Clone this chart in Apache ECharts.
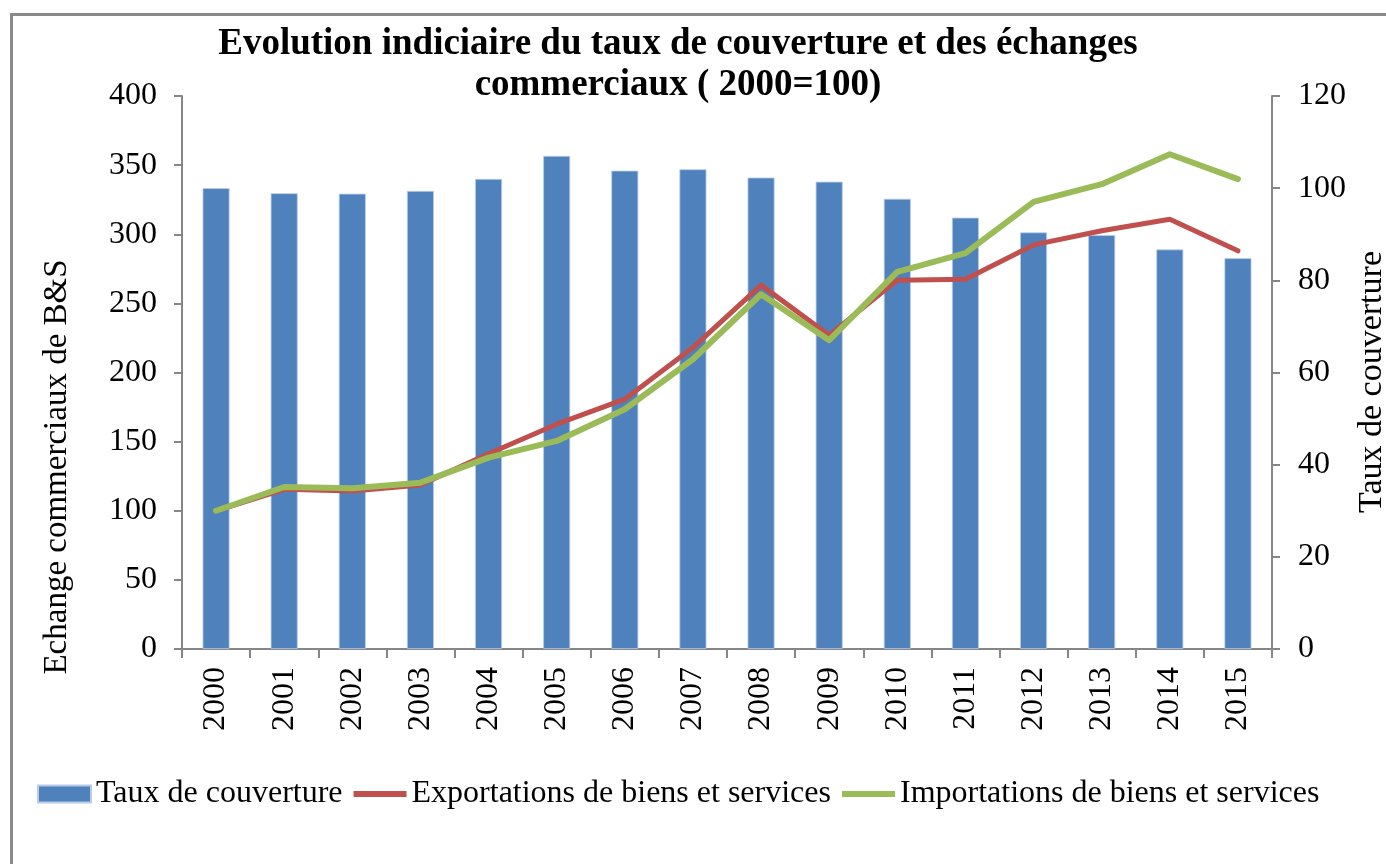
<!DOCTYPE html>
<html>
<head>
<meta charset="utf-8">
<script src="https://cdn.jsdelivr.net/npm/echarts@6/dist/echarts.min.js"></script>
<style>
html,body{margin:0;padding:0;background:#fff;}
#chart{width:1386px;height:864px;}
</style>
</head>
<body>
<div id="chart"></div>
<script>
var years = ['2000','2001','2002','2003','2004','2005','2006','2007','2008','2009','2010','2011','2012','2013','2014','2015'];
var tauxCouverture = [100, 98.9, 98.8, 99.4, 102.0, 107.0, 103.8, 104.1, 102.3, 101.4, 97.7, 93.6, 90.4, 89.8, 86.7, 84.8];
var exportations = [100, 115.5, 114.3, 118.7, 141.3, 162.6, 180.7, 218, 263.2, 227, 266.8, 267.5, 292.3, 302.5, 310.9, 288];
var importations = [100, 117.2, 116.3, 120.3, 138.4, 150.5, 173.4, 209.6, 256.6, 223.4, 272.8, 286.3, 323.4, 336.2, 357.9, 339.9];
var seriesNames = ['Taux de couverture', 'Exportations de biens et services', 'Importations de biens et services'];
var titleText = 'Evolution indiciaire du taux de couverture et des échanges\ncommerciaux ( 2000=100)';
var leftAxisName = 'Echange commerciaux de B&S';
var rightAxisName = 'Taux de couverture';

var FONT = 'Liberation Serif';
var axisGray = '#868686';
var linePath = 'path://M0,0H54V6H0Z';
var chart = echarts.init(document.getElementById('chart'));
chart.setOption({
  backgroundColor: '#fff',
  animation: false,
  textStyle: { fontFamily: FONT, color: '#000' },
  graphic: [{
    type: 'rect', left: 9, top: 12, silent: true,
    shape: { width: 1500, height: 1000 },
    style: { fill: 'none', stroke: '#8a8a8a', lineWidth: 3 }
  }, {
    type: 'text', x: 57, y: 467, rotation: Math.PI / 2, silent: true,
    style: { text: leftAxisName, font: '33px "Liberation Serif"', fill: '#000', align: 'center', verticalAlign: 'middle' }
  }, {
    type: 'text', x: 1372, y: 382, rotation: Math.PI / 2, silent: true,
    style: { text: rightAxisName, font: '34px "Liberation Serif"', fill: '#000', align: 'center', verticalAlign: 'middle' }
  }],
  title: {
    text: titleText,
    left: 673, top: 19, textAlign: 'center',
    textStyle: { fontFamily: FONT, fontWeight: 'bold', fontSize: 37, lineHeight: 41, color: '#000' }
  },
  legend: {
    left: 37, top: 778, padding: 0,
    itemWidth: 53, itemHeight: 17, itemGap: 11,
    textStyle: { fontFamily: FONT, fontSize: 32, color: '#000' },
    data: [
      { name: seriesNames[0], icon: 'rect' },
      { name: seriesNames[1], icon: linePath },
      { name: seriesNames[2], icon: linePath }
    ]
  },
  grid: { left: 182, right: 114, top: 96, bottom: 215, containLabel: false },
  xAxis: {
    type: 'category', data: years,
    boundaryGap: true,
    axisLine: { lineStyle: { color: axisGray, width: 2 } },
    axisTick: { show: true, alignWithLabel: false, length: 9, lineStyle: { color: axisGray, width: 2 } },
    axisLabel: { rotate: 90, margin: 18, fontFamily: FONT, fontSize: 32, color: '#000' }
  },
  yAxis: [{
    type: 'value', min: 0, max: 400, interval: 50, position: 'left',
    axisLine: { show: true, lineStyle: { color: axisGray, width: 2 } },
    axisTick: { show: true, length: 8, lineStyle: { color: axisGray, width: 2 } },
    axisLabel: { margin: 25, fontFamily: FONT, fontSize: 32, color: '#000' },
    splitLine: { show: false }
  }, {
    type: 'value', min: 0, max: 120, interval: 20, position: 'right',
    axisLine: { show: true, lineStyle: { color: axisGray, width: 2 } },
    axisTick: { show: true, length: 8, lineStyle: { color: axisGray, width: 2 } },
    axisLabel: { margin: 26, fontFamily: FONT, fontSize: 32, color: '#000' },
    splitLine: { show: false }
  }],
  series: [{
    name: seriesNames[0], type: 'bar', yAxisIndex: 1, data: tauxCouverture,
    barWidth: 27,
    itemStyle: { color: '#4F81BD', borderColor: '#b9cde8', borderWidth: 0.8 }
  }, {
    name: seriesNames[1], type: 'line', yAxisIndex: 0, data: exportations,
    symbol: 'none', showSymbol: false,
    lineStyle: { color: '#C0504D', width: 5, cap: 'round', join: 'round' },
    itemStyle: { color: '#C0504D' }, z: 3
  }, {
    name: seriesNames[2], type: 'line', yAxisIndex: 0, data: importations,
    symbol: 'none', showSymbol: false,
    lineStyle: { color: '#9BBB59', width: 6, cap: 'round', join: 'round' },
    itemStyle: { color: '#9BBB59' }, z: 4
  }]
});
</script>
</body>
</html>
